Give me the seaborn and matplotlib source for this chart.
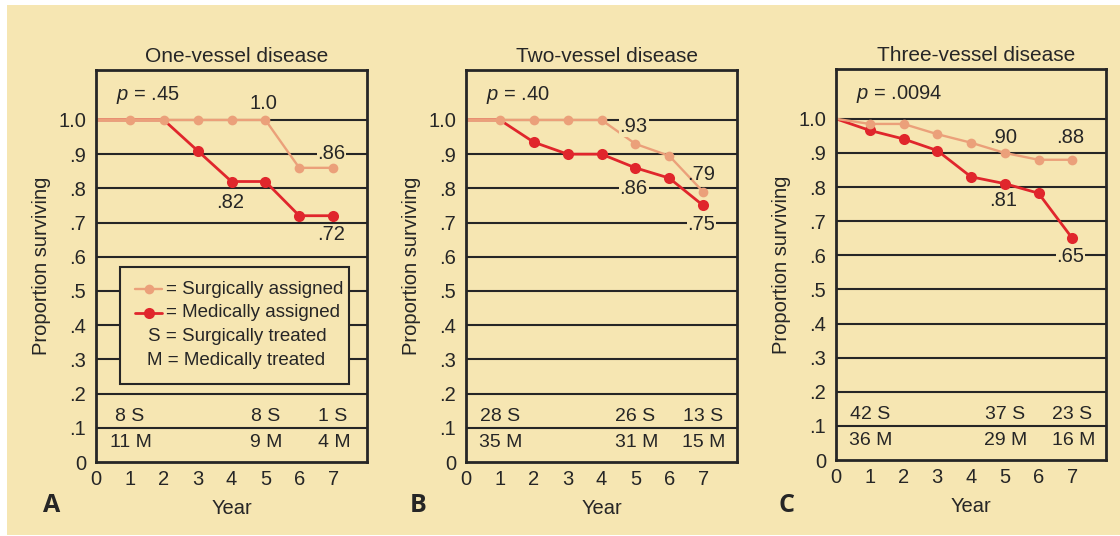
import numpy as np
import pandas as pd
import matplotlib
matplotlib.use("Agg")
import matplotlib.pyplot as plt
from matplotlib.patches import Rectangle
from matplotlib.lines import Line2D
import seaborn as sns

# ---- data -------------------------------------------------------------
years = [0, 1, 2, 3, 4, 5, 6, 7]

titles = ["One-vessel disease", "Two-vessel disease", "Three-vessel disease"]
panel_letters = ["A", "B", "C"]
p_values = [".45", ".40", ".0094"]

surgical_one = [1.0, 1.0, 1.0, 1.0, 1.0, 1.0, 0.86, 0.86]
medical_one = [1.0, 1.0, 1.0, 0.91, 0.82, 0.82, 0.72, 0.72]

surgical_two = [1.0, 1.0, 1.0, 1.0, 1.0, 0.93, 0.895, 0.79]
medical_two = [1.0, 1.0, 0.935, 0.90, 0.90, 0.86, 0.83, 0.75]

surgical_three = [1.0, 0.985, 0.985, 0.955, 0.93, 0.90, 0.88, 0.88]
medical_three = [1.0, 0.966, 0.941, 0.907, 0.83, 0.81, 0.782, 0.65]

# value labels: (year, value, text offset in y-units, label box)
labels_one = [(4, 0.82, -0.06, False), (5, 1.0, 0.047, False),
              (7, 0.86, 0.043, True), (7, 0.72, -0.056, False)]
labels_two = [(5, 0.93, 0.05, True), (5, 0.86, -0.06, True),
              (7, 0.79, 0.05, False), (7, 0.75, -0.055, True)]
labels_three = [(5, 0.90, 0.046, False), (7, 0.88, 0.066, False),
                (5, 0.81, -0.05, False), (7, 0.65, -0.055, True)]

count_years = [1, 5, 7]
surg_counts_one = [8, 8, 1]
med_counts_one = [11, 9, 4]
surg_counts_two = [28, 26, 13]
med_counts_two = [35, 31, 15]
surg_counts_three = [42, 37, 23]
med_counts_three = [36, 29, 16]

ytick_vals = [0, 0.1, 0.2, 0.3, 0.4, 0.5, 0.6, 0.7, 0.8, 0.9, 1.0]
ytick_text = ["0", ".1", ".2", ".3", ".4", ".5", ".6", ".7", ".8", ".9", "1.0"]

panels = [
    (surgical_one, medical_one, labels_one, surg_counts_one, med_counts_one),
    (surgical_two, medical_two, labels_two, surg_counts_two, med_counts_two),
    (surgical_three, medical_three, labels_three, surg_counts_three, med_counts_three),
]

# ---- style ------------------------------------------------------------
BEIGE = "#F6E6B2"
ORANGE = "#EBA07A"
RED = "#E0262C"
INK = "#262626"

sns.set_theme(style="white")
plt.rcParams["font.family"] = ["Liberation Sans", "DejaVu Sans"]
plt.rcParams["mathtext.fontset"] = "custom"
plt.rcParams["mathtext.rm"] = "Liberation Sans"
plt.rcParams["mathtext.it"] = "Liberation Sans:italic"
plt.rcParams["text.color"] = INK
plt.rcParams["axes.labelcolor"] = INK
plt.rcParams["xtick.color"] = INK
plt.rcParams["ytick.color"] = INK

fig = plt.figure(figsize=(11.2, 5.36), dpi=100, facecolor="white")
fig.patches.append(Rectangle((7 / 1120, 1 / 536), 1 - 7 / 1120, 530 / 536,
                             transform=fig.transFigure, facecolor=BEIGE,
                             edgecolor="none", zorder=-10))

axes_px = [(96, 367, 70, 462), (466, 737, 70, 462), (836, 1106, 69, 460)]
letter_x = [52, 418, 787]

MS_RED, MS_ORANGE = 8.0, 7.0

for i, (surg, med, vlabels, s_n, m_n) in enumerate(panels):
    l, r, t, b = axes_px[i]
    ax = fig.add_axes([l / 1120, (536 - b) / 536, (r - l) / 1120, (b - t) / 536])
    ax.set_facecolor(BEIGE)

    df = pd.DataFrame({"Year": years, "Surgical": surg, "Medical": med})
    med_marks = [k for k in range(1, len(years)) if med[k] != surg[k]]
    sns.lineplot(data=df, x="Year", y="Medical", ax=ax, color=RED, lw=2.0,
                 marker="o", markersize=MS_RED, markevery=med_marks,
                 markeredgecolor=RED, markeredgewidth=0, zorder=4)
    sns.lineplot(data=df, x="Year", y="Surgical", ax=ax, color=ORANGE, lw=1.7,
                 marker="o", markersize=MS_ORANGE, markevery=list(range(1, len(years))),
                 markeredgecolor=ORANGE, markeredgewidth=0, zorder=5)

    ax.set_xlim(0, 8)
    ax.set_ylim(0, 1.146)
    ax.set_xticks(years)
    ax.set_xticklabels([str(y) for y in years], fontsize=14.5)
    ax.set_yticks(ytick_vals)
    ax.set_yticklabels(ytick_text, fontsize=14.5)
    ax.tick_params(axis="y", length=0, pad=7)
    ax.tick_params(axis="x", direction="in", length=4, width=1.5, pad=6, top=False)
    for yv in ytick_vals[1:]:
        ax.axhline(yv, color=INK, lw=1.5, zorder=1)
    for sp in ax.spines.values():
        sp.set_color(INK)
        sp.set_linewidth(2)
        sp.set_zorder(6)

    ax.set_title(titles[i], fontsize=15, pad=6, color=INK, x=0.52)
    ax.set_xlabel("Year", fontsize=14.5, labelpad=7)
    ax.set_ylabel("Proportion surviving", fontsize=14.5, labelpad=5)

    ax.text(0.58, 1.073, r"$p$ = " + p_values[i], fontsize=14.5, ha="left",
            va="center", zorder=7)

    for (yr, val, off, boxed) in vlabels:
        kw = {}
        if boxed:
            kw["bbox"] = dict(facecolor=BEIGE, edgecolor="none", pad=0.6)
        ax.text(yr - 0.05, val + off, ("%.2f" % val).lstrip("0") if val < 1 else "1.0",
                fontsize=14.5, ha="center", va="center", zorder=7, **kw)

    for yr, sn, mn in zip(count_years, s_n, m_n):
        ax.text(yr, 0.132, f"{sn} S", fontsize=14, ha="center", va="center", zorder=7)
        ax.text(yr + 0.03, 0.058, f"{mn} M", fontsize=14, ha="center", va="center", zorder=7)

    fig.text(letter_x[i] / 1120, (536 - 506) / 536, panel_letters[i], fontsize=18,
             fontweight="bold", family="Open Sans", ha="center", va="center")

    if i == 0:
        # key box
        ax.add_patch(Rectangle((0.0886, 0.199), 0.845, 0.298, transform=ax.transAxes,
                               facecolor=BEIGE, edgecolor=INK, lw=1.5, zorder=3))
        rows = [0.4405, 0.381, 0.320, 0.260]
        for yy, col, ms, lw in [(rows[0], ORANGE, MS_ORANGE, 1.7), (rows[1], RED, MS_RED, 2.0)]:
            ax.add_line(Line2D([0.144, 0.244], [yy, yy], transform=ax.transAxes,
                               color=col, lw=lw, zorder=8))
            ax.add_line(Line2D([0.194], [yy], transform=ax.transAxes, color=col,
                               marker="o", markersize=ms, markeredgewidth=0, zorder=8))
        ax.text(0.258, rows[0], "= Surgically assigned", transform=ax.transAxes,
                fontsize=13.5, ha="left", va="center", zorder=8)
        ax.text(0.258, rows[1], "= Medically assigned", transform=ax.transAxes,
                fontsize=13.5, ha="left", va="center", zorder=8)
        ax.text(0.52, rows[2], "S = Surgically treated", transform=ax.transAxes,
                fontsize=13.5, ha="center", va="center", zorder=8)
        ax.text(0.515, rows[3], "M = Medically treated", transform=ax.transAxes,
                fontsize=13.5, ha="center", va="center", zorder=8)

fig.savefig("out.png", dpi=100, facecolor="white")
